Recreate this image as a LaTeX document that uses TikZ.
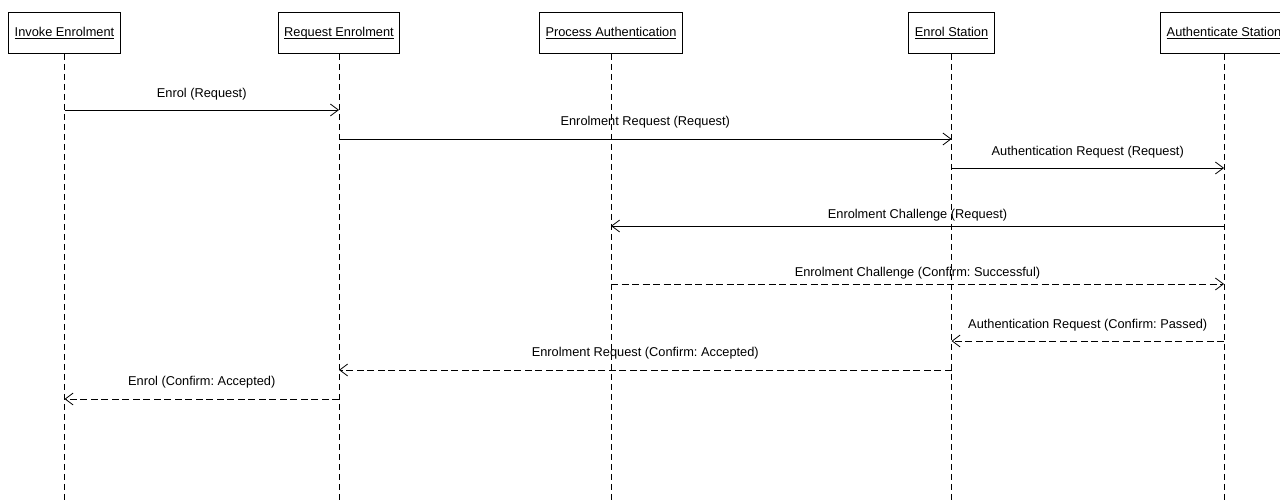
\documentclass[tikz,border=0pt]{standalone}
\usepackage{fontspec}
\setmainfont{Liberation Sans}
\usetikzlibrary{arrows.meta}
% underline drawn at a fixed depth below the baseline
\newcommand\actorname[1]{\setbox0\hbox{#1}\rlap{\rule[-1.8pt]{\wd0}{0.6pt}}\box0}
\frenchspacing
\begin{document}
\begin{tikzpicture}[x=1pt,y=-1pt,
  font=\fontsize{12.8}{15}\selectfont,
  actor/.style={draw, fill=white, line width=0.8pt, minimum height=41pt,
                inner xsep=6pt, text height=9.5pt, text depth=2.5pt, anchor=north},
  lifeline/.style={line width=0.8pt, dash pattern=on 6pt off 4pt},
  msg/.style={line width=0.8pt, -{Straight Barb[length=8pt,width=12pt]}},
  reply/.style={msg, dash pattern=on 7pt off 3.5pt},
  lbl/.style={midway, anchor=base}]
\path[use as bounding box, clip] (0,0) rectangle (1280,502);
\fill[white] (0,0) rectangle (1280,502);

% participants
\node[actor] (inv)  at (64.5,12)  {\actorname{Invoke Enrolment}};
\node[actor] (req)  at (339,12)   {\actorname{Request Enrolment}};
\node[actor] (proc) at (611,12)   {\actorname{Process Authentication}};
\node[actor] (enr)  at (951.5,12) {\actorname{Enrol Station}};
\node[actor] (auth) at (1224,12)  {\actorname{Authenticate Station}};

% lifelines
\foreach \p in {inv,req,proc,enr,auth}{
  \coordinate (\p-end) at (\p.south |- 0,502);
  \draw[lifeline] (\p.south) -- (\p-end);
}

% message end points on the lifelines
\foreach \p in {inv,req,proc,enr,auth}{
  \foreach \k/\y in {1/110,2/139,3/168,4/226,5/284,6/341,7/370,8/399}{
    \coordinate (\p-\k) at (\p.south |- 0,\y);
  }
}

% requests
\draw[msg] (inv-1) -- (req-1)
  node[lbl, yshift=12.5pt] (l1) {Enrol (Request)};
\draw[msg] (req-2) -- (enr-2)
  node[lbl, yshift=13pt] (l2) {Enrolment Request (Request)};
\draw[msg] (enr-3) -- (auth-3)
  node[lbl, yshift=12.5pt] (l3) {Authentication Request (Request)};
\draw[msg] (auth-4) -- (proc-4)
  node[lbl, yshift=7pt] (l4) {Enrolment Challenge (Request)};

% confirmations
\draw[reply] (proc-5) -- (auth-5)
  node[lbl, yshift=7pt] (l5) {Enrolment Challenge (Confirm: Successful)};
\draw[reply] (auth-6) -- (enr-6)
  node[lbl, yshift=12.5pt] (l6) {Authentication Request (Confirm: Passed)};
\draw[reply] (enr-7) -- (req-7)
  node[lbl, yshift=13pt] (l7) {Enrolment Request (Confirm: Accepted)};
\draw[reply] (req-8) -- (inv-8)
  node[lbl, yshift=13pt] (l8) {Enrol (Confirm: Accepted)};
\end{tikzpicture}
\end{document}
